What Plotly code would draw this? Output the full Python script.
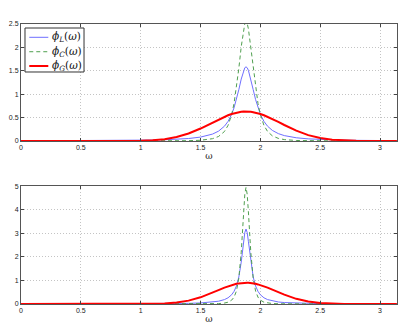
import plotly.graph_objects as go

omega = [0, 0.5, 0.8, 1.0, 1.1, 1.2, 1.3, 1.4, 1.5, 1.55,
         1.6, 1.65, 1.7, 1.73, 1.76, 1.78, 1.80, 1.82, 1.84, 1.86,
         1.87, 1.88, 1.89, 1.90, 1.92, 1.94, 1.96, 1.98, 2.0, 2.03,
         2.06, 2.1, 2.15, 2.2, 2.3, 2.4, 2.5, 2.6, 2.7, 2.8,
         2.9, 3.0, 3.14]

# top panel
phiL_top = [0.0036, 0.0067, 0.0109, 0.0164, 0.0208, 0.0273, 0.0373, 0.0538, 0.0842, 0.1098,
            0.1484, 0.2105, 0.317, 0.4195, 0.5706, 0.7092, 0.8855, 1.0976, 1.3236, 1.5104,
            1.5657, 1.585, 1.5657, 1.5104, 1.3236, 1.0976, 0.8855, 0.7092, 0.5706, 0.4195,
            0.317, 0.2272, 0.1585, 0.1162, 0.0696, 0.0461, 0.0328, 0.0244, 0.0189, 0.0150,
            0.0122, 0.0102, 0.0080]
phiC_top = [0.0, 0.0001, 0.0003, 0.0007, 0.0011, 0.0018, 0.0034, 0.0070, 0.0168, 0.0281,
            0.0500, 0.0964, 0.2038, 0.3343, 0.5631, 0.8019, 1.1315, 1.5517, 2.0137, 2.3975,
            2.5106, 2.55, 2.5106, 2.3975, 2.0137, 1.5517, 1.1315, 0.8019, 0.5631, 0.3343,
            0.2038, 0.1111, 0.0567, 0.0313, 0.0116, 0.0052, 0.0026, 0.0015, 0.0009, 0.0006,
            0.0004, 0.0003, 0.0002]
phiG_top = [0.0, 0.0, 0.0006, 0.0063, 0.0169, 0.0403, 0.0853, 0.1601, 0.267, 0.3297,
            0.3953, 0.46, 0.5196, 0.5511, 0.5783, 0.5937, 0.6065, 0.6166, 0.6240, 0.6285,
            0.6296, 0.63, 0.6296, 0.6285, 0.6240, 0.6166, 0.6065, 0.5937, 0.5783, 0.5511,
            0.5196, 0.4724, 0.4084, 0.3427, 0.2208, 0.1263, 0.0641, 0.0289, 0.0116, 0.0041,
            0.0013, 0.0004, 0.0001]

# bottom panel
phiL_bot = [0.0018, 0.0034, 0.0055, 0.0083, 0.0106, 0.0139, 0.0190, 0.0277, 0.0440, 0.0580,
            0.0801, 0.1173, 0.1871, 0.2626, 0.3921, 0.5355, 0.7644, 1.1447, 1.7765, 2.6555,
            3.030, 3.18, 3.030, 2.6555, 1.7765, 1.1447, 0.7644, 0.5355, 0.3921, 0.2626,
            0.1871, 0.1277, 0.0859, 0.0617, 0.0361, 0.0236, 0.0167, 0.0124, 0.0095, 0.0076,
            0.0062, 0.0051, 0.0041]
phiC_bot = [0.0, 0.0, 0.0, 0.0001, 0.0001, 0.0002, 0.0004, 0.0009, 0.0023, 0.0040,
            0.0076, 0.0160, 0.0398, 0.0764, 0.163, 0.2898, 0.5482, 1.0932, 2.1965, 3.909,
            4.654, 4.95, 4.654, 3.909, 2.1965, 1.0932, 0.5482, 0.2898, 0.163, 0.0764,
            0.0398, 0.0190, 0.0087, 0.0045, 0.0016, 0.0007, 0.0003, 0.0002, 0.0001, 0.0,
            0.0, 0.0, 0.0]
phiG_bot = [0.0, 0.0, 0.0, 0.0018, 0.0069, 0.0223, 0.0610, 0.1425, 0.2835, 0.3766,
            0.4807, 0.5894, 0.6945, 0.7518, 0.8021, 0.8308, 0.8551, 0.8744, 0.8885, 0.8971,
            0.8993, 0.9, 0.8993, 0.8971, 0.8885, 0.8744, 0.8551, 0.8308, 0.8021, 0.7518,
            0.6945, 0.6111, 0.5023, 0.3967, 0.2194, 0.1035, 0.0416, 0.0142, 0.0041, 0.0010,
            0.0002, 0.0, 0.0]

x_ticks = [0, 0.5, 1, 1.5, 2, 2.5, 3]
x_ticktext = ["0", "0.5", "1", "1.5", "2", "2.5", "3"]
y_ticks_top = [0, 0.5, 1, 1.5, 2, 2.5]
y_ticktext_top = ["0", "0.5", "1", "1.5", "2", "2.5"]
y_ticks_bot = [0, 1, 2, 3, 4, 5]
y_ticktext_bot = ["0", "1", "2", "3", "4", "5"]

names = ["<i>ϕ</i><sub><i>L</i></sub>(<i>ω</i>)",
         "<i>ϕ</i><sub><i>C</i></sub>(<i>ω</i>)",
         "<i>ϕ</i><sub><i>G</i></sub>(<i>ω</i>)"]

blue = "#6f6fff"
green = "#4f9f4f"
red = "#ff0000"
styles = [dict(color=blue, width=1),
          dict(color=green, width=1, dash="4px,3px"),
          dict(color=red, width=2)]

fig = go.Figure()
for ya, series in [("y", (phiL_top, phiC_top, phiG_top)),
                   ("y2", (phiL_bot, phiC_bot, phiG_bot))]:
    xa = "x" if ya == "y" else "x2"
    for name, vals, st in zip(names, series, styles):
        fig.add_trace(go.Scatter(x=omega, y=vals, mode="lines", name=name, showlegend=False,
                                 line=st, xaxis=xa, yaxis=ya))

# hand-made legend box (MATLAB style, compact)
fig.add_shape(type="rect", xref="paper", yref="paper", x0=0.0106, x1=0.1676,
              y0=0.8286, y1=0.9857, line=dict(color="#333", width=1), fillcolor="white",
              layer="above")
row_y = [0.9525, 0.901, 0.85]
for name, st, yy in zip(names, styles, row_y):
    fig.add_shape(type="line", xref="paper", yref="paper", x0=0.022, x1=0.0726,
                  y0=yy, y1=yy, line=st, layer="above")
    fig.add_annotation(xref="paper", yref="paper", x=0.0771, y=yy, text=name,
                       xanchor="left", yanchor="middle", showarrow=False,
                       font=dict(family="DejaVu Serif, serif", size=10.5, color="#111"))

tickfont = dict(family="Liberation Sans, Arial, sans-serif", size=7, color="#222")
common_x = dict(range=[0, 3.1416], tickvals=x_ticks, ticktext=x_ticktext, ticks="inside",
                ticklen=3, tickcolor="#444", showline=True, linecolor="#555", linewidth=1,
                mirror="allticks", showgrid=True, gridcolor="#c4c4c4", griddash="1px,2px",
                gridwidth=1, zeroline=False, tickfont=tickfont, automargin=False,
                title=dict(text="ω", font=dict(family="DejaVu Serif, serif", size=9, color="#222"),
                           standoff=2))
common_y = dict(ticks="inside", ticklen=3, tickcolor="#444", showline=True, linecolor="#555",
                linewidth=1, mirror="allticks", showgrid=True, gridcolor="#c4c4c4",
                griddash="1px,2px", gridwidth=1, zeroline=False, tickfont=tickfont,
                automargin=False)

fig.update_layout(
    width=415, height=331,
    margin=dict(l=13, r=26, t=16, b=35, autoexpand=False),
    paper_bgcolor="white", plot_bgcolor="white",
    xaxis=dict(domain=[0, 1], anchor="y", **common_x),
    yaxis=dict(domain=[0.582, 1], range=[0, 2.5], tickvals=y_ticks_top,
               ticktext=y_ticktext_top, anchor="x", **common_y),
    xaxis2=dict(domain=[0, 1], anchor="y2", **common_x),
    yaxis2=dict(domain=[0, 0.421], range=[0, 5], tickvals=y_ticks_bot,
                ticktext=y_ticktext_bot, anchor="x2", **common_y),
    showlegend=False,
)

fig.write_html("out.html")
